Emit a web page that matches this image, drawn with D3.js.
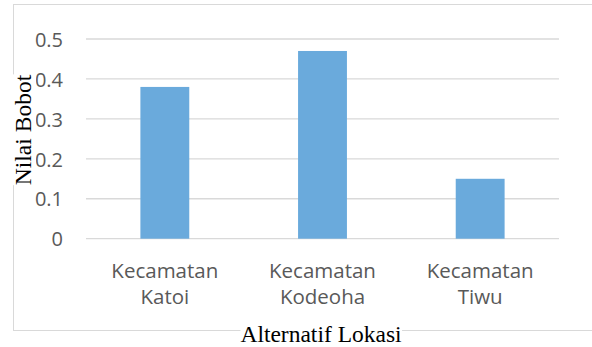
<!DOCTYPE html>
<html>
<head>
<meta charset="utf-8">
<script src="https://cdn.jsdelivr.net/npm/d3@7"></script>
<style>
  body { margin: 0; background: #fff; }
  svg { display: block; }
</style>
</head>
<body>
<svg id="chart" width="592" height="347"></svg>
<script>
// data
let categories = [['Kecamatan', 'Katoi'], ['Kecamatan', 'Kodeoha'], ['Kecamatan', 'Tiwu']];
let values = [0.38, 0.47, 0.15];
let yTicks = [0, 0.1, 0.2, 0.3, 0.4, 0.5];
let yTitle = 'Nilai Bobot';
let xTitle = 'Alternatif Lokasi';

let svg = d3.select('#chart');

let plotLeft = 86, plotRight = 559, plotTop = 39, plotBottom = 238.7;

// chart border
svg.append('rect')
    .attr('x', 13.5)
    .attr('y', 4.5)
    .attr('width', 600)
    .attr('height', 326)
    .attr('fill', 'none')
    .attr('stroke', '#d9d9d9')
    .attr('stroke-width', 1);

let xScale = d3.scaleBand()
                .domain(d3.range(values.length))
                .range([plotLeft, plotRight])
                .paddingInner(0.69)
                .paddingOuter(0.345);

let yScale = d3.scaleLinear()
                .domain([0, 0.5])
                .range([plotBottom, plotTop]);

// gridlines
svg.append('g')
    .selectAll('line')
    .data(yTicks)
    .enter()
    .append('line')
    .attr('x1', plotLeft)
    .attr('x2', plotRight)
    .attr('y1', (d) => yScale(d))
    .attr('y2', (d) => yScale(d))
    .attr('stroke', '#d9d9d9')
    .attr('stroke-width', 1.3);

// y tick labels
let yAxis = d3.axisLeft(yScale)
                .tickValues(yTicks)
                .tickFormat((d) => d === 0 ? '0' : d3.format('.1f')(d))
                .tickSize(0)
                .tickPadding(0);

let yAxisGroup = svg.append('g')
                    .attr('transform', 'translate(63,0)')
                    .call(yAxis);
yAxisGroup.select('.domain').remove();
yAxisGroup.selectAll('text')
    .attr('fill', '#595959')
    .attr('dy', '0.36em')
    .style('font-family', '"Open Sans", sans-serif')
    .style('font-size', '20px');

// bars
svg.append('g')
    .selectAll('rect')
    .data(values)
    .enter()
    .append('rect')
    .attr('x', (d, i) => xScale(i))
    .attr('y', (d) => yScale(d))
    .attr('width', xScale.bandwidth())
    .attr('height', (d) => plotBottom - yScale(d))
    .attr('fill', '#6aaadc');

// category labels
let catGroups = svg.append('g')
                    .selectAll('text')
                    .data(categories)
                    .enter()
                    .append('text')
                    .attr('text-anchor', 'middle')
                    .attr('fill', '#595959')
                    .style('font-family', '"Open Sans", sans-serif')
                    .style('font-size', '20.5px');

catGroups.each(function (d, i) {
    let t = d3.select(this);
    d.forEach((line, j) => {
        t.append('tspan')
            .attr('x', xScale(i) + xScale.bandwidth() / 2)
            .attr('y', 278 + j * 26)
            .text(line);
    });
});

// white backings behind the axis titles (they cover the border)
let bg = svg.append('g');
let ybg = bg.append('rect').attr('fill', '#fff');
let xbg = bg.append('rect').attr('fill', '#fff');

let yt = svg.append('text')
            .attr('transform', 'translate(31,130) rotate(-90)')
            .attr('text-anchor', 'middle')
            .attr('fill', '#000')
            .style('font-family', '"Liberation Serif", serif')
            .style('font-size', '23.5px')
            .text(yTitle);
let yb = yt.node().getBBox();
ybg.attr('x', 31 + yb.y)
    .attr('y', 130 - yb.x - yb.width)
    .attr('width', yb.height)
    .attr('height', yb.width);

let xt = svg.append('text')
            .attr('x', 321)
            .attr('y', 341.5)
            .attr('text-anchor', 'middle')
            .attr('fill', '#000')
            .style('font-family', '"Liberation Serif", serif')
            .style('font-size', '23.5px')
            .text(xTitle);
let xb = xt.node().getBBox();
xbg.attr('x', xb.x)
    .attr('y', xb.y)
    .attr('width', xb.width)
    .attr('height', xb.height);
</script>
</body>
</html>
